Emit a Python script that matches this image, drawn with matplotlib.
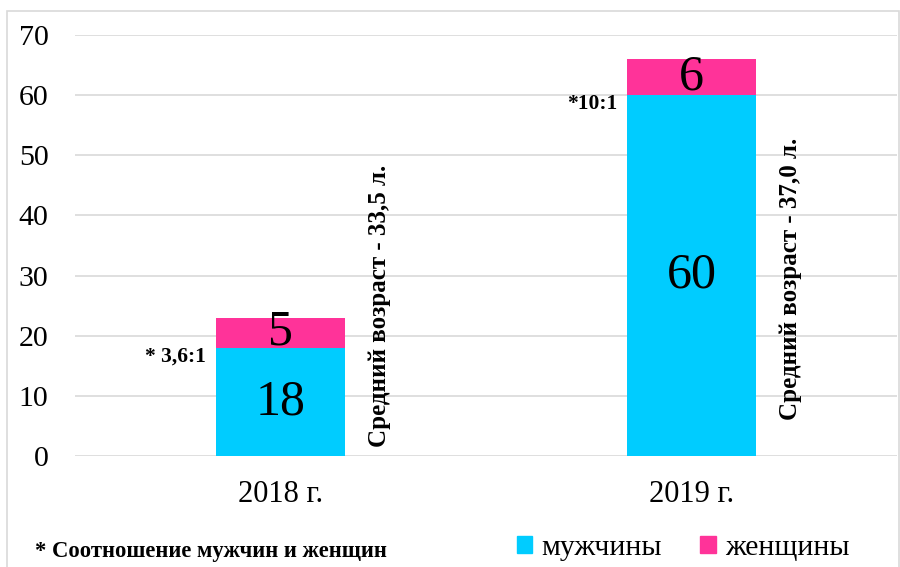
import matplotlib
matplotlib.use("Agg")
import matplotlib.pyplot as plt
from matplotlib.patches import Patch, Rectangle

plt.rcParams['font.family'] = ['Liberation Serif', 'DejaVu Serif']

# data
years = ["2018 г.", "2019 г."]
men = [18, 60]
women = [5, 6]
ratio_labels = ["* 3,6:1", "*10:1"]
age_labels = ["Средний возраст - 33,5 л.", "Средний возраст - 37,0 л."]
yticks = [0, 10, 20, 30, 40, 50, 60, 70]

c_men = "#00CCFF"
c_women = "#FF3399"

fig = plt.figure(figsize=(9, 5.67), dpi=100)
ax = fig.add_axes([75 / 900, 111 / 567, 822 / 900, 421 / 567])

x = [0.5, 1.5]
w = 0.314
ax.bar(x, men, width=w, color=c_men, zorder=2)
ax.bar(x, women, width=w, bottom=men, color=c_women, zorder=2)

# where the rotated age labels start (bottom), in data units
age_y = [1.5, 6]

for i in range(len(x)):
    ax.text(x[i], men[i] / 2, str(men[i]), ha="center", va="center", fontsize=36, zorder=3)
    ax.text(x[i], men[i] + women[i] / 2, str(women[i]), ha="center", va="center", fontsize=36, zorder=3)
    ax.annotate(ratio_labels[i], (x[i] - w / 2, men[i] - 1.4), xytext=(-7, 0),
                textcoords="offset points", ha="right", va="center",
                fontsize=15.5, fontweight="bold")
    ax.text(x[i] + w / 2 + 0.083, age_y[i], age_labels[i], rotation=90,
            ha="center", va="bottom", fontsize=18, fontweight="bold")

ax.set_xlim(0, 2)
ax.set_ylim(0, 70)
ax.set_xticks(x)
ax.set_xticklabels(years, fontsize=22)
ax.set_yticks(yticks)
ax.set_yticklabels([str(v) for v in yticks], fontsize=21.5)
ax.tick_params(axis="both", length=0)
ax.tick_params(axis="y", pad=19)
ax.tick_params(axis="x", pad=17)
ax.grid(axis="y", color="#d9d9d9", linewidth=1.2, zorder=0)
for s in ax.spines.values():
    s.set_visible(False)

# outer frame
fig.patches.append(Rectangle((7 / 900, -0.01), 892 / 900, 1 - 11 / 567 + 0.01,
                             transform=fig.transFigure, fill=False,
                             edgecolor="#d9d9d9", linewidth=1.2))

handles = [Patch(color=c_men, label="мужчины"), Patch(color=c_women, label="женщины")]
fig.legend(handles=handles, loc="center", bbox_to_anchor=(683 / 900, 19 / 567),
           ncol=2, frameon=False, fontsize=21.5, handlelength=0.52, handleheight=0.52,
           handletextpad=0.3, columnspacing=1.3)

fig.text(35 / 900, 16 / 567, "* Соотношение мужчин и женщин", fontsize=16.3,
         fontweight="bold", va="center", ha="left")

fig.savefig("out.png", dpi=100)
